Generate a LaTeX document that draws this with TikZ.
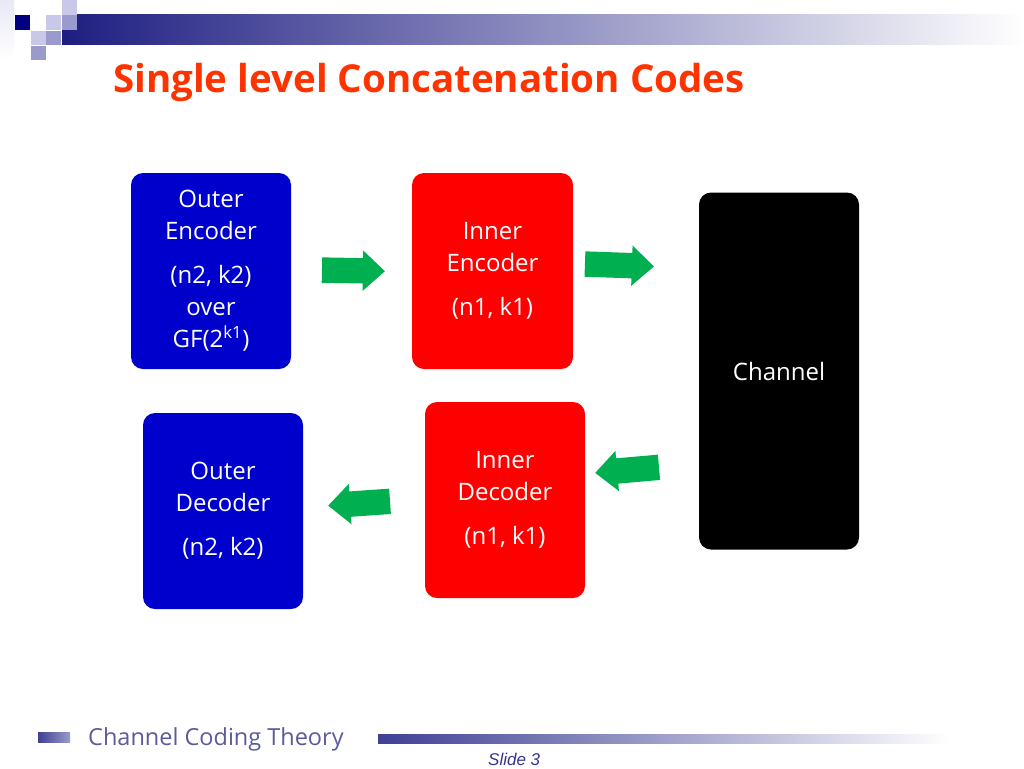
\documentclass[tikz,border=0pt]{standalone}
\usepackage{fontspec}
\usepackage{tikz}
\usepackage{xcolor}
\usetikzlibrary{shapes.arrows}
\setmainfont{Open Sans}
\newfontfamily\slidefont{Liberation Sans}
\definecolor{titlered}{HTML}{FF3300}
\definecolor{encblue}{HTML}{0000CC}
\definecolor{encred}{HTML}{FF0000}
\definecolor{flowgreen}{HTML}{00B050}
\definecolor{barnavy}{HTML}{1E1E82}
\definecolor{sqnavy}{HTML}{000080}
\definecolor{footblue}{HTML}{5B5B9B}
\definecolor{sqlight}{HTML}{C8C8E8}
\definecolor{sqmid}{HTML}{9A9ACC}
\tikzset{
    code-box/.style = {rectangle, rounded corners=12pt, text=white, align=center, font=\fontsize{24}{32}\selectfont, minimum width=160pt, minimum height=196pt, inner sep=0pt},
    flow-arrow/.style = {single arrow, fill=flowgreen, draw=none, inner xsep=0pt, inner ysep=12.5pt, minimum width=40pt, single arrow head extend=7.5pt, single arrow tip angle=85},
}

\begin{document}
\begin{tikzpicture}[x=1pt, y=-1pt]
\useasboundingbox (0,0) rectangle (1024,768);
% header bar and squares
\shade[left color=barnavy, right color=white] (62,15) rectangle (1024,45);
\shade[top color=sqlight!40, bottom color=white] (0,0) rectangle (14,60);
\fill[sqnavy] (15,15) rectangle (30,30);
\fill[sqlight] (62,0) rectangle (77,15);
\fill[sqlight] (46,15) rectangle (61,30);
\fill[sqlight] (31,31) rectangle (46,45);
\fill[sqmid] (62,15) rectangle (77,30);
\fill[sqmid] (46,31) rectangle (61,45);
\fill[sqmid] (31,46) rectangle (46,60);
\node[anchor=base west, inner sep=0pt, text=titlered, font=\fontsize{38.5}{40}\selectfont\bfseries] (title) at (113,92) {Single level Concatenation Codes};

% blocks
\node[code-box, fill=encblue] (outer-enc) at (211,271) {Outer\\Encoder\\[12pt](n2, k2)\\over\\GF(2\textsuperscript{k1})};
\node[code-box, fill=encred, minimum width=161pt] (inner-enc) at (492.5,271) {Inner\\Encoder\\[12pt](n1, k1)};
\node[code-box, fill=black, minimum height=357pt] (channel) at (779,371) {Channel};
\node[code-box, fill=encred] (inner-dec) at (505,500) {Inner\\Decoder\\[12pt](n1, k1)};
\node[code-box, fill=encblue] (outer-dec) at (223,511) {Outer\\Decoder\\[12pt](n2, k2)};

% arrows
\node[flow-arrow, minimum height=63pt, rotate=-1] (enc-arrow) at (346.5,270.5) {};
\node[flow-arrow, minimum height=69pt, rotate=-2] (chan-arrow) at (612.5,265) {};
\node[flow-arrow, minimum height=64pt, rotate=185] (dec-arrow) at (634,469.5) {};
\node[flow-arrow, minimum height=62pt, rotate=184] (out-arrow) at (366,503) {};

% footer
\shade[left color=barnavy!85, right color=sqmid] (38,732) rectangle (70,742);
\node[anchor=base west, inner sep=0pt, text=footblue, font=\fontsize{23.5}{25}\selectfont] (footer) at (88,745) {Channel Coding Theory};
\shade[left color=barnavy!85, right color=white] (378,734) rectangle (950,743);
\node[anchor=base west, inner sep=0pt, text=barnavy!90, font=\slidefont\itshape\fontsize{17}{20}\selectfont] (slide-no) at (488,765) {Slide 3};
\end{tikzpicture}
\end{document}
